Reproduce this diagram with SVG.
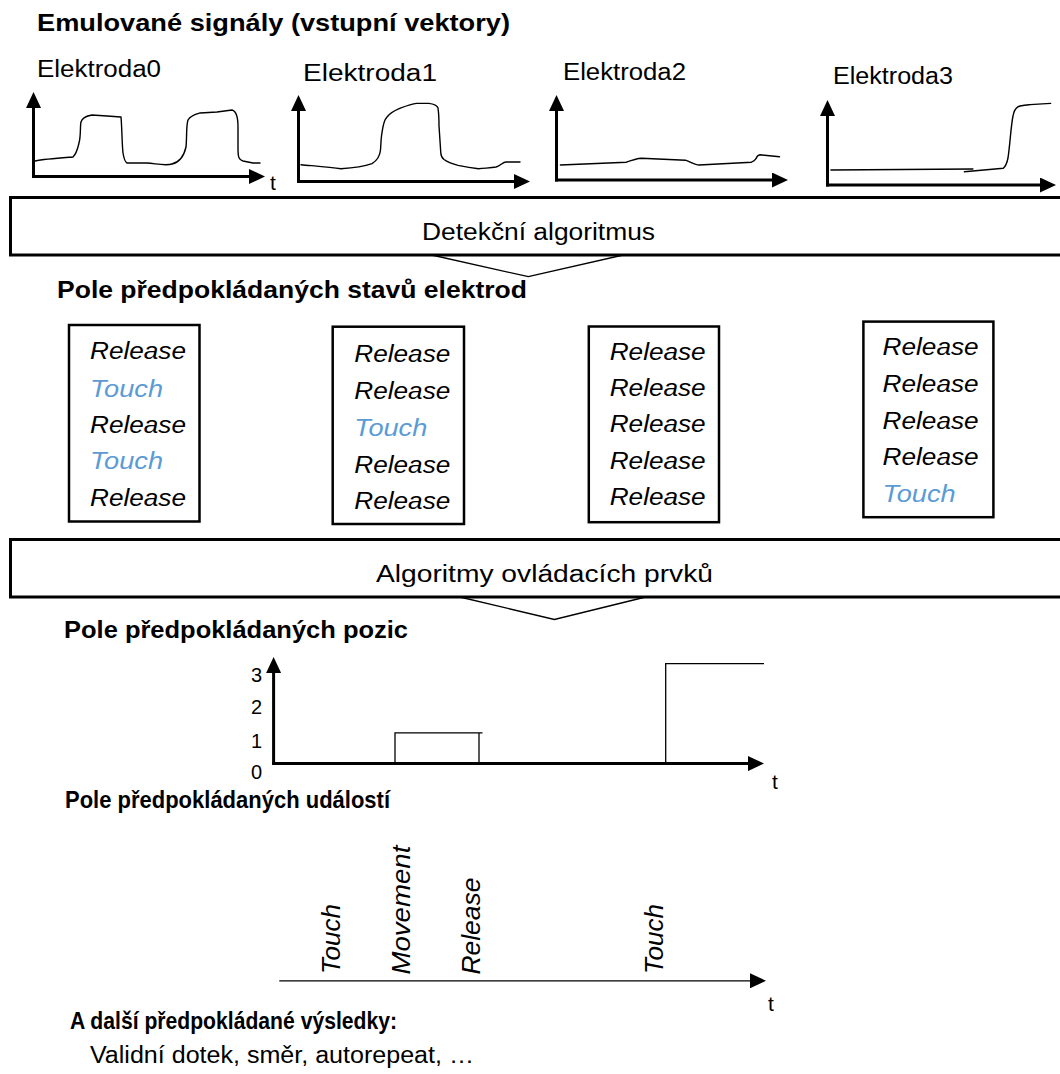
<svg xmlns="http://www.w3.org/2000/svg" width="1060" height="1074" viewBox="0 0 1060 1074">
  <style>
    text { font-family: "Liberation Sans", Arial, sans-serif; fill: #000; }
    .h { font-size: 24px; font-weight: bold; }
    .lbl { font-size: 23.5px; }
    .st { font-size: 23.5px; font-style: italic; }
    .ev { font-size: 25px; font-style: italic; }
    .touch { fill: #5b9bd5; }
    .num { font-size: 20px; }
    .t { font-size: 21px; }
    .axis { stroke: #000; stroke-width: 3; fill: none; }
    .thin { stroke: #000; stroke-width: 1.3; fill: none; }
    .sig { stroke: #000; stroke-width: 1.4; fill: none; stroke-linejoin: round; stroke-linecap: round; }
    .box { stroke: #000; stroke-width: 3; fill: #fff; }
    .sbox { stroke: #000; stroke-width: 2.5; fill: #fff; }
  </style>
  <defs>
    <marker id="arrow" markerUnits="userSpaceOnUse" markerWidth="16" markerHeight="15" refX="0" refY="7.5" orient="auto">
      <path d="M0,0 L16,7.5 L0,15 z" fill="#000"/>
    </marker>
  </defs>

  <rect width="1060" height="1074" fill="#fff"/>

  <!-- Input signals -->
  <g id="inputs">
    <text class="h" x="37" y="31" textLength="473" lengthAdjust="spacingAndGlyphs">Emulované signály (vstupní vektory)</text>

    <g id="electrode0">
      <text class="lbl" x="37" y="77" textLength="124" lengthAdjust="spacingAndGlyphs">Elektroda0</text>
      <line class="axis" x1="33.5" y1="178" x2="33.5" y2="108" marker-end="url(#arrow)"/>
      <line class="axis" x1="32" y1="176.5" x2="249" y2="176.5" marker-end="url(#arrow)"/>
      <text class="t" x="270" y="190">t</text>
      <path class="sig" d="M35,161 C45,159 60,158 73,157 C77,153 78,147 79,143 C81,136 80,126 81,122 C82,118 86,116 92,115 L107,116 L121,117 C122,128 122,145 123,153 C124,159 125,162 127,163 L147,163 C158,164 166,166 172,164 C180,162 184,156 186,147 C187,138 186,126 188,120 C191,115 196,114 200,113 L217,112 L232,110 C236,111 238,116 238,127 L238,150 C238,157 239,160 243,161 L253,163 L260,163"/>
    </g>

    <g id="electrode1">
      <text class="lbl" x="303" y="81" textLength="134" lengthAdjust="spacingAndGlyphs">Elektroda1</text>
      <line class="axis" x1="298.5" y1="183" x2="298.5" y2="111" marker-end="url(#arrow)"/>
      <line class="axis" x1="297" y1="181.5" x2="514" y2="181.5" marker-end="url(#arrow)"/>
      <path class="sig" d="M301,164.7 C315,166 330,167 341,168.8 C352,168 365,166 372,163.6 C378,160 380,155 380.5,150 C381,143 381,138 382,132.6 C383,125 384,120 387,117 C391,112 396,110 399.5,108.5 C406,106 411,104 416.7,103.4 L428.7,103.4 C434,104 437,105 438,108 C439,115 439,120 439,125.8 L440.8,153 C441,157 442,158 444,159.5 C449,163 453,164 458,165.4 C466,167 472,168 478.6,168.8 C486,168 491,168 496,167 C500,166 503,162 506,162 L520,162"/>
    </g>

    <g id="electrode2">
      <text class="lbl" x="563" y="80" textLength="123" lengthAdjust="spacingAndGlyphs">Elektroda2</text>
      <line class="axis" x1="556.5" y1="181.5" x2="556.5" y2="111" marker-end="url(#arrow)"/>
      <line class="axis" x1="555" y1="180" x2="772" y2="180" marker-end="url(#arrow)"/>
      <path class="sig" d="M560.4,165 L626.4,162.2 C632,160 636,158.5 641.6,158.2 L685.5,160.2 C691,162 695,165 699,165 L751.4,162.2 C754,161 755,160 755.8,158.9 C757,156 758,155 760,154.8 L779.5,156.8"/>
    </g>

    <g id="electrode3">
      <text class="lbl" x="833" y="84" textLength="120" lengthAdjust="spacingAndGlyphs">Elektroda3</text>
      <line class="axis" x1="827.5" y1="186.5" x2="827.5" y2="116" marker-end="url(#arrow)"/>
      <line class="axis" x1="826" y1="185" x2="1040" y2="185" marker-end="url(#arrow)"/>
      <path class="sig" d="M830.9,170 L972.9,169"/>
      <path class="sig" d="M964.4,171.7 L1003.3,168.3 C1006,166 1007,163 1008,158 C1010,145 1011,125 1013,116 C1014,110 1016,107 1020,106 C1025,105 1028,104.8 1030,104.6 L1050.6,103.4"/>
    </g>
  </g>

  <!-- Detection algorithm block -->
  <g id="detection">
    <rect class="box" x="10.5" y="197.5" width="1060" height="57.5"/>
    <text class="lbl" x="422" y="240" textLength="233" lengthAdjust="spacingAndGlyphs">Detekční algoritmus</text>
  </g>

  <!-- Predicted electrode states -->
  <g id="states">
    <text class="h" x="57" y="298" textLength="470" lengthAdjust="spacingAndGlyphs">Pole předpokládaných stavů elektrod</text>

    <g id="states0">
      <rect class="sbox" x="69" y="325" width="130.5" height="196.5"/>
      <text class="st" x="90" y="359.3" textLength="96" lengthAdjust="spacingAndGlyphs">Release</text>
      <text class="st touch" x="90" y="396.7" textLength="73" lengthAdjust="spacingAndGlyphs">Touch</text>
      <text class="st" x="90" y="432.7" textLength="96" lengthAdjust="spacingAndGlyphs">Release</text>
      <text class="st touch" x="90" y="469.3" textLength="73" lengthAdjust="spacingAndGlyphs">Touch</text>
      <text class="st" x="90" y="506" textLength="96" lengthAdjust="spacingAndGlyphs">Release</text>
    </g>

    <g id="states1">
      <rect class="sbox" x="332.7" y="326.7" width="131.3" height="197.3"/>
      <text class="st" x="354.3" y="361.7" textLength="96" lengthAdjust="spacingAndGlyphs">Release</text>
      <text class="st" x="354.3" y="399" textLength="96" lengthAdjust="spacingAndGlyphs">Release</text>
      <text class="st touch" x="354.3" y="435.7" textLength="73" lengthAdjust="spacingAndGlyphs">Touch</text>
      <text class="st" x="354.3" y="472.7" textLength="96" lengthAdjust="spacingAndGlyphs">Release</text>
      <text class="st" x="354.3" y="509" textLength="96" lengthAdjust="spacingAndGlyphs">Release</text>
    </g>

    <g id="states2">
      <rect class="sbox" x="588.8" y="326.5" width="130.2" height="195.7"/>
      <text class="st" x="609.7" y="359.7" textLength="96" lengthAdjust="spacingAndGlyphs">Release</text>
      <text class="st" x="609.7" y="396.2" textLength="96" lengthAdjust="spacingAndGlyphs">Release</text>
      <text class="st" x="609.7" y="432" textLength="96" lengthAdjust="spacingAndGlyphs">Release</text>
      <text class="st" x="609.7" y="468.5" textLength="96" lengthAdjust="spacingAndGlyphs">Release</text>
      <text class="st" x="609.7" y="505" textLength="96" lengthAdjust="spacingAndGlyphs">Release</text>
    </g>

    <g id="states3">
      <rect class="sbox" x="863.4" y="321.6" width="130" height="195.6"/>
      <text class="st" x="882.6" y="354.7" textLength="96" lengthAdjust="spacingAndGlyphs">Release</text>
      <text class="st" x="882.6" y="391.9" textLength="96" lengthAdjust="spacingAndGlyphs">Release</text>
      <text class="st" x="882.6" y="428.7" textLength="96" lengthAdjust="spacingAndGlyphs">Release</text>
      <text class="st" x="882.6" y="465.2" textLength="96" lengthAdjust="spacingAndGlyphs">Release</text>
      <text class="st touch" x="882.6" y="501.7" textLength="73" lengthAdjust="spacingAndGlyphs">Touch</text>
    </g>
  </g>

  <!-- Control element algorithms block -->
  <g id="controls">
    <rect class="box" x="10.5" y="539.5" width="1060" height="57.5"/>
    <text class="lbl" x="376" y="582" textLength="337" lengthAdjust="spacingAndGlyphs">Algoritmy ovládacích prvků</text>
  </g>

  <!-- Callout wedges under the processing blocks -->
  <g id="connectors">
    <polyline class="thin" points="431.7,255 528.3,276.7 623.3,255"/>
    <polyline class="thin" points="459.8,597 554.4,619.5 645.7,597"/>
  </g>

  <!-- Predicted positions -->
  <g id="positions">
    <text class="h" x="64" y="638" textLength="344" lengthAdjust="spacingAndGlyphs">Pole předpokládaných pozic</text>
    <line class="axis" x1="273.6" y1="765" x2="273.6" y2="673" marker-end="url(#arrow)"/>
    <line class="axis" x1="272" y1="763.6" x2="748" y2="763.6" marker-end="url(#arrow)"/>
    <text class="num" x="251" y="682">3</text>
    <text class="num" x="251" y="714.3">2</text>
    <text class="num" x="251" y="748">1</text>
    <text class="num" x="251" y="778.6">0</text>
    <text class="t" x="772" y="789">t</text>
    <path class="thin" d="M395,763.6 L395,732.9 L482.5,732.9 M479,732.9 L479,763.6"/>
    <path class="thin" d="M665.7,763.6 L665.7,663.6 L764,663.6"/>
  </g>

  <!-- Predicted events -->
  <g id="events">
    <text class="h" x="65" y="808" textLength="325" lengthAdjust="spacingAndGlyphs">Pole předpokládaných událostí</text>
    <line class="thin" x1="279.3" y1="980.8" x2="750" y2="980.8" marker-end="url(#arrow)"/>
    <text class="t" x="768" y="1011">t</text>
    <text class="ev" transform="translate(340,974) rotate(-90)" textLength="70" lengthAdjust="spacingAndGlyphs">Touch</text>
    <text class="ev" transform="translate(410,974.6) rotate(-90)" textLength="129" lengthAdjust="spacingAndGlyphs">Movement</text>
    <text class="ev" transform="translate(480,974.6) rotate(-90)" textLength="97" lengthAdjust="spacingAndGlyphs">Release</text>
    <text class="ev" transform="translate(663,974) rotate(-90)" textLength="70" lengthAdjust="spacingAndGlyphs">Touch</text>
  </g>

  <!-- Further results -->
  <g id="results">
    <text class="h" x="70" y="1029" textLength="327" lengthAdjust="spacingAndGlyphs">A další předpokládané výsledky:</text>
    <text class="lbl" x="90" y="1063" textLength="384" lengthAdjust="spacingAndGlyphs">Validní dotek, směr, autorepeat, …</text>
  </g>
</svg>
